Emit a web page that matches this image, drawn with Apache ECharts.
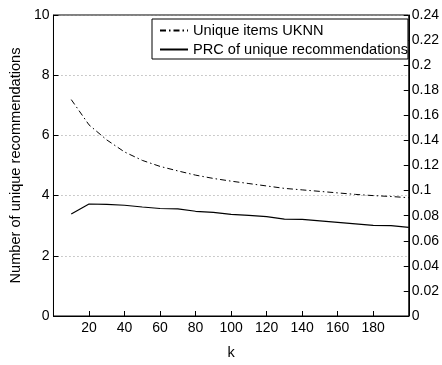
<!DOCTYPE html>
<html>
<head>
<meta charset="utf-8">
<script src="https://cdn.jsdelivr.net/npm/echarts@6/dist/echarts.min.js"></script>
<style>
  html, body { margin: 0; padding: 0; background: #fff; }
  #chart { width: 442px; height: 365px; }
</style>
</head>
<body>
<div id="chart"></div>
<script>
const kValues = [10, 20, 30, 40, 50, 60, 70, 80, 90, 100, 110, 120, 130, 140, 150, 160, 170, 180, 190, 200];
const uniqueItems = [7.19, 6.35, 5.85, 5.45, 5.17, 4.97, 4.82, 4.68, 4.57, 4.48, 4.40, 4.32, 4.24, 4.19, 4.14, 4.09, 4.04, 4.00, 3.97, 3.93];
const prcUnique = [0.0814, 0.0893, 0.0890, 0.0883, 0.0869, 0.0857, 0.0854, 0.0835, 0.0826, 0.0811, 0.0802, 0.0792, 0.0773, 0.0770, 0.0758, 0.0746, 0.0734, 0.0722, 0.0720, 0.0706];
const seriesNames = ["Unique items UKNN", "PRC of unique recommendations"];

const font = "'Liberation Sans', Arial, Helvetica, sans-serif";
const black = "#000";

const chart = echarts.init(document.getElementById("chart"), null, { renderer: "canvas" });

chart.setOption({
  animation: false,
  backgroundColor: "#fff",
  textStyle: { fontFamily: font, color: black },
  grid: {
    left: 48, right: 32, top: 15, bottom: 33,
    show: true, borderColor: black, borderWidth: 1, backgroundColor: "transparent"
  },
  legend: {
    orient: "vertical",
    left: 152, top: 19,
    padding: [4, 0, 2, 7],
    itemWidth: 28, itemHeight: 14, itemGap: 4,
    borderColor: black, borderWidth: 1,
    backgroundColor: "#fff",
    itemStyle: { color: "transparent", borderWidth: 0, opacity: 0 },
    textStyle: { fontFamily: font, fontSize: 14.6, color: black },
    data: seriesNames
  },
  xAxis: {
    type: "value",
    min: 0, max: 200, interval: 20,
    name: "k", nameLocation: "middle", nameGap: 29,
    nameTextStyle: { fontFamily: font, fontSize: 14.5, color: black },
    axisLine: { lineStyle: { color: black, width: 1 } },
    axisTick: { inside: true, length: 5, lineStyle: { color: black } },
    axisLabel: {
      fontFamily: font, fontSize: 14, color: black, margin: 5,
      formatter: (v) => (v === 0 || v === 200 ? "" : String(v))
    },
    splitLine: { show: false }
  },
  yAxis: [
    {
      type: "value",
      min: 0, max: 10, interval: 2,
      name: "Number of unique recommendations", nameLocation: "middle", nameGap: 22,
      nameTextStyle: { fontFamily: font, fontSize: 14.6, color: black },
      axisLine: { show: true, lineStyle: { color: black, width: 1 } },
      axisTick: { show: true, inside: true, length: 5, lineStyle: { color: black } },
      axisLabel: { fontFamily: font, fontSize: 14, color: black, margin: 4 },
      splitLine: { show: true, lineStyle: { color: "#999", type: [1, 3], width: 1 } }
    },
    {
      type: "value",
      position: "right",
      min: 0, max: 0.24, interval: 0.02,
      axisLine: { show: true, lineStyle: { color: black, width: 1 } },
      axisTick: { show: true, inside: true, length: 5, lineStyle: { color: black } },
      axisLabel: {
        fontFamily: font, fontSize: 14, color: black, margin: 3,
        formatter: (v) => String(+v.toFixed(2))
      },
      splitLine: { show: false }
    }
  ],
  series: [
    {
      name: seriesNames[0],
      type: "line",
      yAxisIndex: 0,
      symbol: "none",
      lineStyle: { color: black, width: 1, type: [6, 3, 1.5, 3] },
      itemStyle: { color: black },
      data: kValues.map((k, i) => [k, uniqueItems[i]])
    },
    {
      name: seriesNames[1],
      type: "line",
      yAxisIndex: 1,
      symbol: "none",
      lineStyle: { color: black, width: 1.2, type: "solid" },
      itemStyle: { color: black },
      data: kValues.map((k, i) => [k, prcUnique[i]])
    }
  ]
});
</script>
</body>
</html>
